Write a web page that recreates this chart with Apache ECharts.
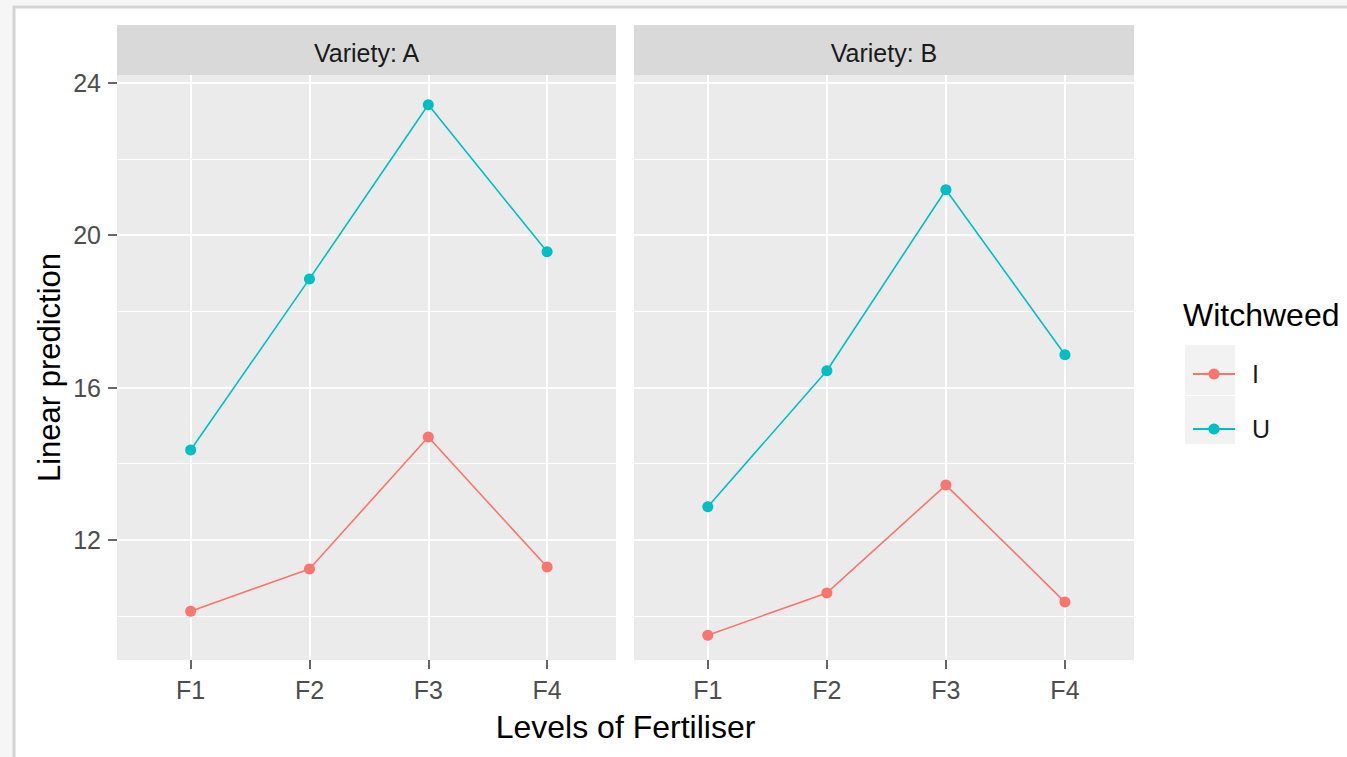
<!DOCTYPE html>
<html><head><meta charset="utf-8">
<script src="https://cdn.jsdelivr.net/npm/echarts@6/dist/echarts.min.js"></script>
<style>html,body{margin:0;padding:0;background:#f6f6f6;} #c{width:1347px;height:757px;}</style>
</head><body><div id="c"></div>
<script>
const fertiliser = ['F1', 'F2', 'F3', 'F4'];
const varieties = ['Variety: A', 'Variety: B'];
const witchweed = ['I', 'U'];
const varietyA_I = [10.13, 11.24, 14.70, 11.29];
const varietyA_U = [14.36, 18.85, 23.42, 19.56];
const varietyB_I = [9.50, 10.61, 13.44, 10.37];
const varietyB_U = [12.87, 16.44, 21.19, 16.86];
const yMajorTicks = [12, 16, 20, 24];
const yMinorTicks = [10, 14, 18, 22];
const xTicks = [1, 2, 3, 4];

const FONT = '"Liberation Sans", Arial, sans-serif';
const colI = '#F8766D', colU = '#00BFC4';
const grids = [
  {left: 117, top: 75, width: 499, height: 585},
  {left: 634, top: 75, width: 500, height: 585}
];
const Y_MIN = 8.85, Y_MAX = 24.2, X_MIN = 0.38, X_MAX = 4.58;

function xAxisFor(gi) {
  return {
    type: 'value', gridIndex: gi, min: X_MIN, max: X_MAX, position: 'bottom',
    axisLine: {show: false},
    axisTick: {show: true, length: 9, customValues: xTicks, lineStyle: {color: '#333', width: 1.5}},
    axisLabel: {customValues: xTicks, formatter: v => fertiliser[Math.round(v) - 1] || '',
      fontSize: 25, color: '#4d4d4d', fontFamily: FONT, margin: 17},
    splitLine: {show: true, lineStyle: {color: '#ffffff', width: 2}}
  };
}
function yMajor(gi, withLabels) {
  return {
    type: 'value', gridIndex: gi, min: Y_MIN, max: Y_MAX, position: 'left', offset: 0,
    axisLine: {show: false},
    axisTick: {show: withLabels, length: 9, customValues: yMajorTicks, lineStyle: {color: '#333', width: 1.5}},
    axisLabel: {show: withLabels, customValues: yMajorTicks, fontSize: 25, color: '#4d4d4d', fontFamily: FONT, margin: 16},
    splitLine: {show: true, lineStyle: {color: '#ffffff', width: 2}},
    name: withLabels ? 'Linear prediction' : '',
    nameLocation: 'middle', nameGap: 52,
    nameTextStyle: {fontSize: 31, color: '#000', fontFamily: FONT}
  };
}
function yMinor(gi) {
  return {
    type: 'value', gridIndex: gi, min: Y_MIN, max: Y_MAX, position: 'left', offset: 0,
    axisLine: {show: false},
    axisTick: {show: false, customValues: yMinorTicks},
    axisLabel: {show: false, customValues: yMinorTicks},
    splitLine: {show: true, lineStyle: {color: '#ffffff', width: 1}}
  };
}
function lineSeries(name, vals, color, xi, yi) {
  return {
    type: 'line', name: name, xAxisIndex: xi, yAxisIndex: yi,
    data: vals.map((v, i) => [i + 1, v]),
    color: color, symbol: 'circle', symbolSize: 11, showSymbol: true,
    lineStyle: {width: 1.6, color: color}, itemStyle: {color: color},
    animation: false, z: 5
  };
}

const graphics = [
  {type: 'rect', z: -10, shape: {x: 14, y: 7, width: 1400, height: 800},
   style: {fill: '#ffffff', stroke: '#d4d4d4', lineWidth: 3}},
];
grids.forEach((g, i) => {
  graphics.push({type: 'rect', z: 1, shape: {x: g.left, y: 25, width: g.width, height: 50}, style: {fill: '#d9d9d9'}});
  graphics.push({type: 'text', z: 2, x: g.left + g.width / 2, y: 53,
    style: {text: varieties[i], align: 'center', verticalAlign: 'middle', fontSize: 25, fontFamily: FONT, fill: '#1a1a1a'}});
});
graphics.push({type: 'text', z: 2, x: (grids[0].left + grids[1].left + grids[1].width) / 2, y: 727,
  style: {text: 'Levels of Fertiliser', align: 'center', verticalAlign: 'middle', fontSize: 32, fontFamily: FONT, fill: '#000'}});
graphics.push({type: 'text', z: 2, x: 1183, y: 315,
  style: {text: 'Witchweed', align: 'left', verticalAlign: 'middle', fontSize: 32, fontFamily: FONT, fill: '#000'}});
graphics.push({type: 'rect', z: 1, shape: {x: 1185, y: 345, width: 50, height: 50}, style: {fill: '#f2f2f2'}});
graphics.push({type: 'rect', z: 1, shape: {x: 1185, y: 396, width: 50, height: 48}, style: {fill: '#f2f2f2'}});

const chart = echarts.init(document.getElementById('c'), null, {renderer: 'svg'});
chart.setOption({
  animation: false,
  backgroundColor: '#f6f6f6',
  grid: grids.map(g => Object.assign({show: true, backgroundColor: '#ebebeb', borderWidth: 0, containLabel: false}, g)),
  xAxis: [xAxisFor(0), xAxisFor(1)],
  yAxis: [yMinor(0), yMajor(0, true), yMinor(1), yMajor(1, false)],
  legend: {
    data: witchweed, orient: 'vertical', left: 1187, top: 355,
    itemWidth: 42, itemHeight: 14, itemGap: 27,
    textStyle: {fontSize: 25, lineHeight: 28, color: '#1a1a1a', fontFamily: FONT, padding: [0, 0, 0, 12]},
    selectedMode: false
  },
  graphic: graphics,
  series: [
    lineSeries(witchweed[0], varietyA_I, colI, 0, 1),
    lineSeries(witchweed[1], varietyA_U, colU, 0, 1),
    lineSeries(witchweed[0], varietyB_I, colI, 1, 3),
    lineSeries(witchweed[1], varietyB_U, colU, 1, 3)
  ]
});
</script></body></html>
